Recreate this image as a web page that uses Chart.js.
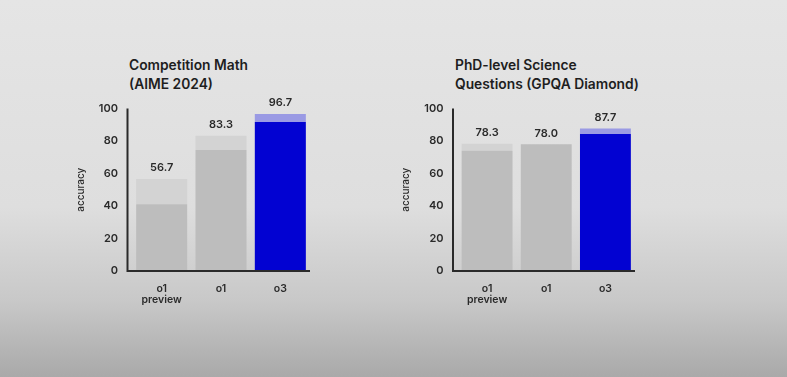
<!DOCTYPE html>
<html>
<head>
<meta charset="utf-8">
<script src="https://cdn.jsdelivr.net/npm/chart.js@4.4.1/dist/chart.umd.min.js"></script>
<style>
  html, body { margin: 0; padding: 0; }
  body {
    width: 787px; height: 377px; overflow: hidden; position: relative;
    background: linear-gradient(to bottom, #e5e5e5 0%, #dedede 55%, #c8c8c8 80%, #a9a9a9 100%);
    font-family: Inter, "Noto Sans", sans-serif;
  }
  .title {
    position: absolute; font-size: 13.8px; font-weight: 600; color: #1e1e1e;
    line-height: 19px;
  }
  .box { position: absolute; width: 250px; height: 214px; }
</style>
</head>
<body>
<div class="title" style="left:129px; top:55.5px;">Competition Math<br>(AIME 2024)</div>
<div class="title" style="left:455px; top:55.5px;">PhD-level Science<br>Questions (GPQA Diamond)</div>
<div class="box" style="left:60px; top:96px;"><canvas id="mathChart"></canvas></div>
<div class="box" style="left:385px; top:96px;"><canvas id="gpqaChart"></canvas></div>
<script>
// Model categories (multi-line labels)
const models = [['o1', 'preview'], 'o1', 'o3'];

// Competition Math (AIME 2024)
const mathTotal = [56.7, 83.3, 96.7];
const mathBase = [41, 74.5, 91.8];

// PhD-level Science (GPQA Diamond)
const gpqaTotal = [78.3, 78.0, 87.7];
const gpqaBase = [74.0, 78.0, 84.3];

const yTicks = [0, 20, 40, 60, 80, 100];

const DARK = ['#bdbdbd', '#bdbdbd', '#0202d2'];
const LIGHT = ['#d3d3d3', '#d3d3d3', '#9a9ae4'];

// Draw axis lines a little left of the first bar, plus value labels
const axisPlugin = {
    id: 'axisLines',
    afterDatasetsDraw(chart) {
        const { ctx, chartArea, scales } = chart;
        const x0 = chartArea.left - 4.5;
        const yTop = scales.y.getPixelForValue(100);
        const yBot = scales.y.getPixelForValue(0);
        ctx.save();
        ctx.strokeStyle = '#2a2a2a';
        ctx.lineWidth = 2;
        ctx.beginPath();
        ctx.moveTo(x0, yTop);
        ctx.lineTo(x0, yBot);
        ctx.lineTo(chartArea.right, yBot);
        ctx.stroke();

        const totals = chart.options.plugins.axisLines.totals;
        ctx.fillStyle = '#2a2a2a';
        ctx.font = '600 11px Inter, "Noto Sans", sans-serif';
        ctx.textAlign = 'center';
        ctx.textBaseline = 'middle';
        totals.forEach((v, i) => {
            const x = scales.x.getPixelForValue(i);
            const y = scales.y.getPixelForValue(v);
            ctx.fillText(v.toFixed(1), x, y - 11);
        });
        ctx.restore();
    }
};

function createChart(canvasId, totals, bases) {
    const ctx = document.getElementById(canvasId);
    return new Chart(ctx, {
        type: 'bar',
        data: {
            labels: models,
            datasets: [{
                data: bases,
                backgroundColor: DARK,
                barPercentage: 1,
                categoryPercentage: 0.86
            }, {
                data: totals.map((t, i) => +(t - bases[i]).toFixed(2)),
                backgroundColor: LIGHT,
                barPercentage: 1,
                categoryPercentage: 0.86
            }]
        },
        options: {
            responsive: true,
            maintainAspectRatio: false,
            animation: false,
            layout: { padding: { top: 4, right: 0, bottom: 0, left: 0 } },
            plugins: {
                legend: { display: false },
                tooltip: { enabled: false },
                axisLines: { totals: totals }
            },
            scales: {
                x: {
                    stacked: true,
                    grid: { display: false },
                    border: { display: false },
                    ticks: {
                        color: '#2a2a2a',
                        padding: 4,
                        font: { family: 'Inter, "Noto Sans", sans-serif', size: 10.5, weight: '600', lineHeight: 1.1 }
                    }
                },
                y: {
                    stacked: true,
                    min: 0,
                    max: 100,
                    afterBuildTicks: (axis) => { axis.ticks = yTicks.map(v => ({ value: v })); },
                    afterFit: (axis) => { axis.width = canvasId === 'mathChart' ? 72 : 72.5; },
                    grid: { display: false },
                    border: { display: false },
                    title: {
                        display: true,
                        text: 'accuracy',
                        color: '#2a2a2a',
                        padding: { top: 15, bottom: 0 },
                        font: { family: 'Inter, "Noto Sans", sans-serif', size: 10, weight: '500' }
                    },
                    ticks: {
                        color: '#2a2a2a',
                        padding: 6,
                        font: { family: 'Inter, "Noto Sans", sans-serif', size: 11, weight: '600' }
                    }
                }
            }
        },
        plugins: [axisPlugin]
    });
}

createChart('mathChart', mathTotal, mathBase);
createChart('gpqaChart', gpqaTotal, gpqaBase);
</script>
</body>
</html>
